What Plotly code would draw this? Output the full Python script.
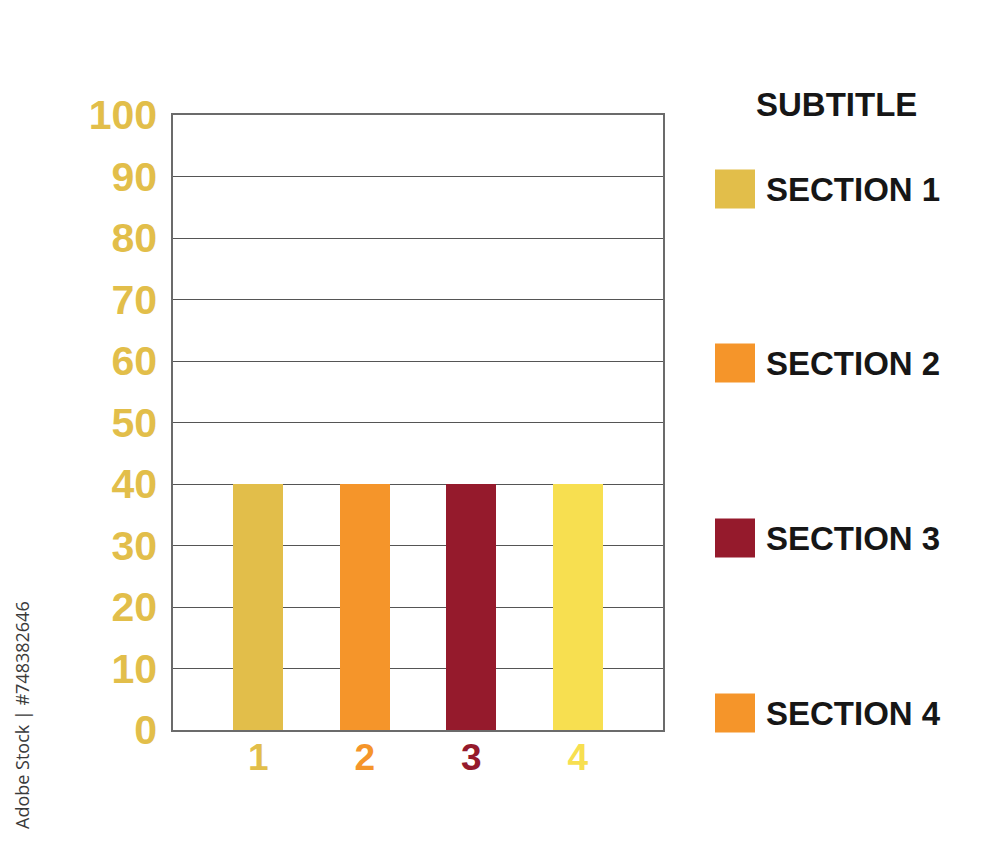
import plotly.graph_objects as go

categories = [1, 2, 3, 4]
values = [40, 40, 40, 40]
bar_colors = ["#E2BE4A", "#F5952A", "#951A2C", "#F7DF50"]
x_tick_labels = ["1", "2", "3", "4"]
y_ticks = [0, 10, 20, 30, 40, 50, 60, 70, 80, 90, 100]
legend_title = "SUBTITLE"
legend_labels = ["SECTION 1", "SECTION 2", "SECTION 3", "SECTION 4"]
legend_colors = ["#E2BE4A", "#F5952A", "#951A2C", "#F5952A"]
watermark = "Adobe Stock | #748382646"

W, H = 1000, 843
L, R, T, B = 173, 337, 115, 113
pw = W - L - R
ph = H - T - B

def px_x(p):
    return (p - L) / pw

def px_y(p):
    return (H - B - p) / ph

fig = go.Figure()
fig.add_trace(go.Bar(
    x=categories, y=values, width=0.47,
    marker=dict(color=bar_colors, line=dict(width=0)),
    showlegend=False, hoverinfo="skip",
))

ticktext = [f"<span style='color:{c}'>{t}</span>" for t, c in zip(x_tick_labels, bar_colors)]

fig.update_layout(
    width=W, height=H,
    margin=dict(l=L, r=R, t=T, b=B),
    paper_bgcolor="white", plot_bgcolor="white",
    font=dict(family="Liberation Sans, Arial, sans-serif"),
    xaxis=dict(
        range=[0.2, 4.8], tickmode="array", tickvals=categories, ticktext=ticktext,
        tickfont=dict(size=37, weight="bold", color="#E2BE4A"),
        showgrid=False, zeroline=False, showline=True, linecolor="#6b6b6b",
        linewidth=1.5, mirror=True, ticks="", ticklabelstandoff=-6,
    ),
    yaxis=dict(
        range=[0, 100], tickmode="array", tickvals=y_ticks,
        tickfont=dict(size=41, weight="bold", color="#E2BE4A"),
        showgrid=True, gridcolor="#555555", gridwidth=1, zeroline=False,
        showline=True, linecolor="#6b6b6b", linewidth=1.5, mirror=True,
        ticks="outside", ticklen=6, tickcolor="rgba(0,0,0,0)",
    ),
    bargap=0,
)

# legend title
fig.add_annotation(
    x=px_x(836), y=px_y(105), xref="paper", yref="paper",
    text=f"<b>{legend_title}</b>", showarrow=False,
    font=dict(size=33, color="#161616"), xanchor="center", yanchor="middle",
)

row_centers = [189, 363, 538, 713]
for lab, col, yc in zip(legend_labels, legend_colors, row_centers):
    fig.add_shape(
        type="rect", xref="paper", yref="paper",
        x0=px_x(715), x1=px_x(755), y0=px_y(yc - 19.5), y1=px_y(yc + 19.5),
        fillcolor=col, line=dict(width=0),
    )
    fig.add_annotation(
        x=px_x(764), y=px_y(yc), xref="paper", yref="paper",
        text=f"<b>{lab}</b>", showarrow=False,
        font=dict(size=33, color="#161616"), xanchor="left", yanchor="middle",
    )

fig.add_annotation(
    x=px_x(22), y=px_y(715), xref="paper", yref="paper",
    text=watermark, showarrow=False, textangle=-90,
    font=dict(size=18, color="#3a3a3a", family="Open Sans, DejaVu Sans, sans-serif"),
    xanchor="center", yanchor="middle",
)

fig.write_html("out.html")
